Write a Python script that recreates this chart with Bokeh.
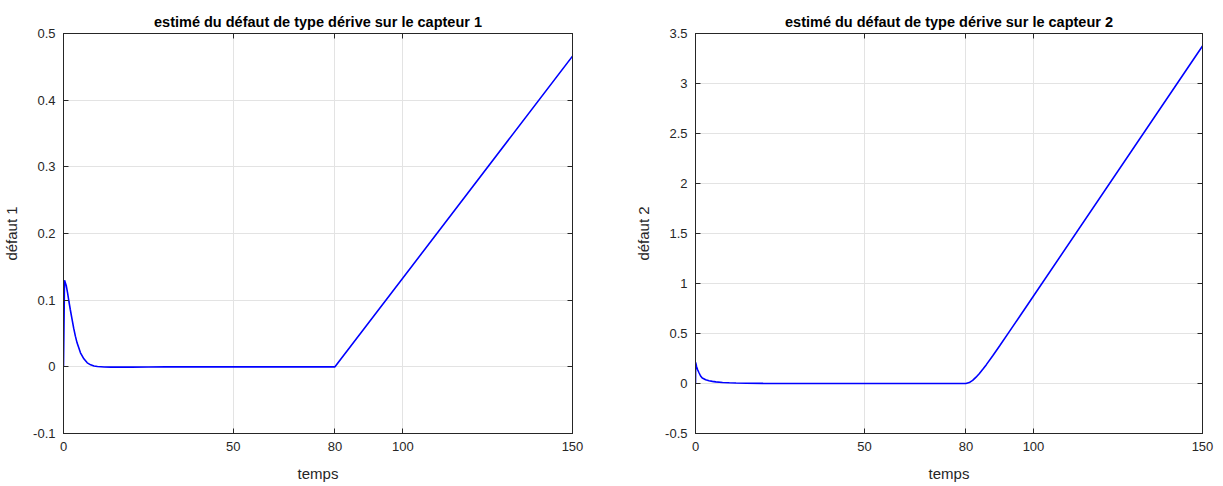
from bokeh.plotting import figure
from bokeh.layouts import row
from bokeh.models import Range1d, FixedTicker, LinearAxis
from bokeh.embed import file_html
from bokeh.resources import INLINE

# ---------------- data ----------------
t1 = [0, 0.3, 0.8, 1.2, 1.6, 2.0, 2.5, 3.0, 3.5, 4, 5, 6, 7, 8, 9, 10, 12, 14, 17, 20, 25, 30, 40, 60, 80, 150]
d1 = [0, 0.130, 0.122, 0.111, 0.098, 0.086, 0.072, 0.058, 0.046, 0.036, 0.021, 0.012, 0.006, 0.003,
      0.0013, 0.0004, -0.0003, -0.0005, -0.0005, -0.0004, -0.0002, -0.0001, 0, 0, 0, 0.466]

t2 = [0, 0.05, 0.3, 0.6, 1.0, 1.5, 2, 3, 4, 5, 6, 8, 10, 12, 15, 20, 30, 80,
      81, 82, 83, 84, 85, 86, 88, 90, 93, 96, 100, 150]
d2 = [0, 0.21, 0.17, 0.14, 0.11, 0.075, 0.055, 0.038, 0.028, 0.021, 0.016, 0.010, 0.007, 0.005,
      0.003, 0.0015, 0.0005, 0,
      0.009, 0.031, 0.063, 0.100, 0.142, 0.186, 0.280, 0.377, 0.526, 0.675, 0.875, 3.375]

x_ticks = [0, 50, 80, 100, 150]
x_tick_labels = ["0", "50", "80", "100", "150"]

y_ticks1 = [-0.1, 0, 0.1, 0.2, 0.3, 0.4, 0.5]
y_tick_labels1 = ["-0.1", "0", "0.1", "0.2", "0.3", "0.4", "0.5"]

y_ticks2 = [-0.5, 0, 0.5, 1, 1.5, 2, 2.5, 3, 3.5]
y_tick_labels2 = ["-0.5", "0", "0.5", "1", "1.5", "2", "2.5", "3", "3.5"]

titles = ["estimé du défaut de type dérive sur le capteur 1",
          "estimé du défaut de type dérive sur le capteur 2"]
x_label = "temps"
y_labels = ["défaut 1", "défaut 2"]

FONT = "Liberation Sans"
AX = "#262626"
GRID = "#e3e3e3"


def make(t, d, yt, ytl, yr, title, ylab, fw, bl, br, bt):
    p = figure(frame_width=fw, frame_height=400, output_backend="svg", toolbar_location=None,
               x_range=Range1d(0, 150), y_range=Range1d(*yr),
               min_border_left=bl, min_border_right=br, min_border_top=bt, min_border_bottom=50,
               x_axis_location="below", y_axis_location="left")
    p.title.text = title
    p.title.align = "center"
    p.title.text_font = FONT
    p.title.text_font_size = "14.5px"
    p.title.text_font_style = "bold"
    p.title.text_color = "#000000"
    p.title.offset = 0
    p.title.standoff = 8

    p.line(t, d, line_color="#0000ff", line_width=1.6)

    xo = dict(zip(x_ticks, x_tick_labels))
    yo = dict(zip(yt, ytl))

    for ax in p.xaxis:
        ax.ticker = FixedTicker(ticks=x_ticks)
        ax.major_label_overrides = xo
        ax.axis_label = x_label
    for ax in p.yaxis:
        ax.ticker = FixedTicker(ticks=yt)
        ax.major_label_overrides = yo
        ax.axis_label = ylab

    for ax in list(p.xaxis) + list(p.yaxis):
        ax.axis_line_color = AX
        ax.axis_line_width = 1
        ax.major_tick_line_color = AX
        ax.major_tick_in = 5
        ax.major_tick_out = 0
        ax.minor_tick_line_color = None
        ax.major_label_text_font = FONT
        ax.major_label_text_font_size = "13px"
        ax.major_label_text_color = AX
        ax.axis_label_text_font = FONT
        ax.axis_label_text_font_size = "15px"
        ax.axis_label_text_font_style = "normal"
        ax.axis_label_text_color = AX
        ax.major_label_standoff = 8
    for ax in p.xaxis:
        ax.axis_label_standoff = 11
    for ax in p.yaxis:
        ax.axis_label_standoff = 10

    # box: ticks on top and right (no labels)
    top = LinearAxis(ticker=FixedTicker(ticks=x_ticks),
                     major_label_overrides={v: "" for v in x_ticks},
                     axis_line_color=AX, major_tick_line_color=AX, major_tick_in=5, major_tick_out=0,
                     minor_tick_line_color=None, major_label_standoff=0)
    right = LinearAxis(ticker=FixedTicker(ticks=yt),
                       major_label_overrides={v: "" for v in yt},
                       axis_line_color=AX, major_tick_line_color=AX, major_tick_in=5, major_tick_out=0,
                       minor_tick_line_color=None, major_label_standoff=0)
    p.add_layout(top, "above")
    p.add_layout(right, "right")

    p.xgrid.ticker = FixedTicker(ticks=x_ticks)
    p.ygrid.ticker = FixedTicker(ticks=yt)
    p.xgrid.grid_line_color = GRID
    p.ygrid.grid_line_color = GRID
    p.outline_line_color = AX
    p.background_fill_color = "#ffffff"
    p.border_fill_color = "#ffffff"
    return p


p1 = make(t1, d1, y_ticks1, y_tick_labels1, (-0.1, 0.5), titles[0], y_labels[0], 509, 63, 60, 33)
p2 = make(t2, d2, y_ticks2, y_tick_labels2, (-0.5, 3.5), titles[1], y_labels[1], 507, 61, 12, 31)

layout = row(p1, p2)
open("out.html", "w").write(file_html(layout, INLINE))
